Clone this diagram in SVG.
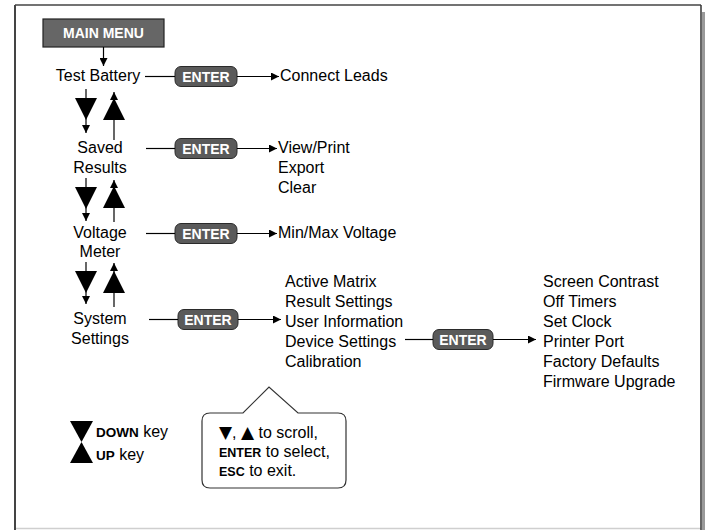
<svg xmlns="http://www.w3.org/2000/svg" width="705" height="530" viewBox="0 0 705 530">
<style>
.t{font-family:"Liberation Sans",Arial,sans-serif;font-size:16px;fill:#000}
.c{text-anchor:middle}
.pill{fill:#5a5a5a;stroke:#2a2a2a;stroke-width:1}
.pt{font-family:"Liberation Sans",Arial,sans-serif;font-size:14px;font-weight:bold;fill:#fff;text-anchor:middle}
.ln{stroke:#000;stroke-width:1.2;fill:none}
.b{font-weight:bold}
.sym{font-family:"DejaVu Sans",sans-serif;font-size:17px}
</style>
<defs>
<marker id="ah" viewBox="0 0 10 10" refX="10" refY="5" markerWidth="8" markerHeight="8" markerUnits="userSpaceOnUse" orient="auto">
<path d="M0,0 L10,5 L0,10 Z" fill="#000"/>
</marker>
</defs>
<rect x="0" y="0" width="705" height="530" fill="#fff"/>
<g id="frame">
<rect x="702" y="12" width="3" height="518" fill="#9a9a9a"/>
<line x1="15" y1="528.5" x2="701" y2="528.5" stroke="#cfcfcf" stroke-width="1.5"/>
<line x1="15" y1="5" x2="701" y2="5" stroke="#444" stroke-width="1.5"/>
<line x1="15" y1="5" x2="15" y2="530" stroke="#444" stroke-width="2"/>
<line x1="701" y1="5" x2="701" y2="530" stroke="#333" stroke-width="1.5"/>
</g>
<g id="main-menu">
<rect x="43" y="19" width="121" height="28" fill="#666" stroke="#222" stroke-width="1.2"/>
<text class="pt" x="103.5" y="38">MAIN MENU</text>
</g>
<g id="test-battery"><text class="t c" x="98" y="81">Test Battery</text></g>
<g id="saved-results"><text class="t c" x="100" y="153">Saved</text><text class="t c" x="100" y="173">Results</text></g>
<g id="voltage-meter"><text class="t c" x="100" y="238">Voltage</text><text class="t c" x="100" y="257">Meter</text></g>
<g id="system-settings"><text class="t c" x="100" y="324">System</text><text class="t c" x="100" y="344">Settings</text></g>
<g id="enter1"><rect class="pill" x="175" y="66.5" width="62" height="20" rx="6"/><text class="pt" x="206" y="81.5">ENTER</text></g>
<g id="enter2"><rect class="pill" x="175" y="138.5" width="62" height="20" rx="6"/><text class="pt" x="206" y="153.5">ENTER</text></g>
<g id="enter3"><rect class="pill" x="175" y="223.5" width="62" height="20" rx="6"/><text class="pt" x="206" y="238.5">ENTER</text></g>
<g id="enter4"><rect class="pill" x="178" y="309.5" width="60" height="20" rx="6"/><text class="pt" x="208" y="324.5">ENTER</text></g>
<g id="enter5"><rect class="pill" x="433" y="329.5" width="60" height="20" rx="6"/><text class="pt" x="463" y="344.5">ENTER</text></g>
<g id="connect-leads"><text class="t" x="280" y="81">Connect Leads</text></g>
<g id="saved-options"><text class="t" x="278" y="153">View/Print</text><text class="t" x="278" y="173">Export</text><text class="t" x="278" y="193">Clear</text></g>
<g id="voltage-options"><text class="t" x="278" y="238">Min/Max Voltage</text></g>
<g id="system-options">
<text class="t" x="285" y="287">Active Matrix</text>
<text class="t" x="285" y="307">Result Settings</text>
<text class="t" x="285" y="327">User Information</text>
<text class="t" x="285" y="347">Device Settings</text>
<text class="t" x="285" y="367">Calibration</text>
</g>
<g id="device-options">
<text class="t" x="543" y="287">Screen Contrast</text>
<text class="t" x="543" y="307">Off Timers</text>
<text class="t" x="543" y="327">Set Clock</text>
<text class="t" x="543" y="347">Printer Port</text>
<text class="t" x="543" y="367">Factory Defaults</text>
<text class="t" x="543" y="387">Firmware Upgrade</text>
</g>
<g id="connectors">
<line class="ln" x1="103.5" y1="47" x2="103.5" y2="66" marker-end="url(#ah)"/>
<line class="ln" x1="145" y1="76.5" x2="175" y2="76.5"/>
<line class="ln" x1="237" y1="76.5" x2="279" y2="76.5" marker-end="url(#ah)"/>
<line class="ln" x1="146" y1="148.5" x2="175" y2="148.5"/>
<line class="ln" x1="237" y1="148.5" x2="277" y2="148.5" marker-end="url(#ah)"/>
<line class="ln" x1="146" y1="233.5" x2="175" y2="233.5"/>
<line class="ln" x1="237" y1="233.5" x2="277" y2="233.5" marker-end="url(#ah)"/>
<line class="ln" x1="149" y1="319.5" x2="178" y2="319.5"/>
<line class="ln" x1="238" y1="319.5" x2="281" y2="319.5" marker-end="url(#ah)"/>
<line class="ln" x1="405" y1="339.5" x2="433" y2="339.5"/>
<line class="ln" x1="493" y1="339.5" x2="536" y2="339.5" marker-end="url(#ah)"/>
<line class="ln" x1="86" y1="89" x2="86" y2="133" marker-end="url(#ah)"/>
<polygon points="75,98 97,98 86,120" fill="#000"/>
<line class="ln" x1="114" y1="140" x2="114" y2="92" marker-end="url(#ah)"/>
<polygon points="103,120 125,120 114,98" fill="#000"/>
<line class="ln" x1="86" y1="178" x2="86" y2="221" marker-end="url(#ah)"/>
<polygon points="75,187 97,187 86,209" fill="#000"/>
<line class="ln" x1="114" y1="222" x2="114" y2="180" marker-end="url(#ah)"/>
<polygon points="103,208 125,208 114,186" fill="#000"/>
<line class="ln" x1="86" y1="262" x2="86" y2="304" marker-end="url(#ah)"/>
<polygon points="75,271 97,271 86,293" fill="#000"/>
<line class="ln" x1="114" y1="307" x2="114" y2="263" marker-end="url(#ah)"/>
<polygon points="103,293 125,293 114,271" fill="#000"/>
</g>
<g id="legend">
<polygon points="70,421 93,421 81.5,442" fill="#000"/>
<polygon points="70,463 93,463 81.5,442" fill="#000"/>
<text class="t" x="96" y="437"><tspan class="b" font-size="13.5">DOWN</tspan>  key</text>
<text class="t" x="96" y="460"><tspan class="b" font-size="13.5">UP</tspan> key</text>
</g>
<g id="callout">
<path d="M210,413 L243,413 L269,387 L298,413 L338,413 Q346,413 346,421 L346,480 Q346,488 338,488 L210,488 Q202,488 202,480 L202,421 Q202,413 210,413 Z" fill="#fff" stroke="#333" stroke-width="1.2"/>
<text class="t" x="219" y="438"><tspan class="sym">▼</tspan>, <tspan class="sym">▲</tspan> to scroll,</text>
<text class="t" x="219" y="457"><tspan class="b" font-size="12.5">ENTER</tspan> to select,</text>
<text class="t" x="219" y="476"><tspan class="b" font-size="12.5">ESC</tspan> to exit.</text>
</g>
</svg>
